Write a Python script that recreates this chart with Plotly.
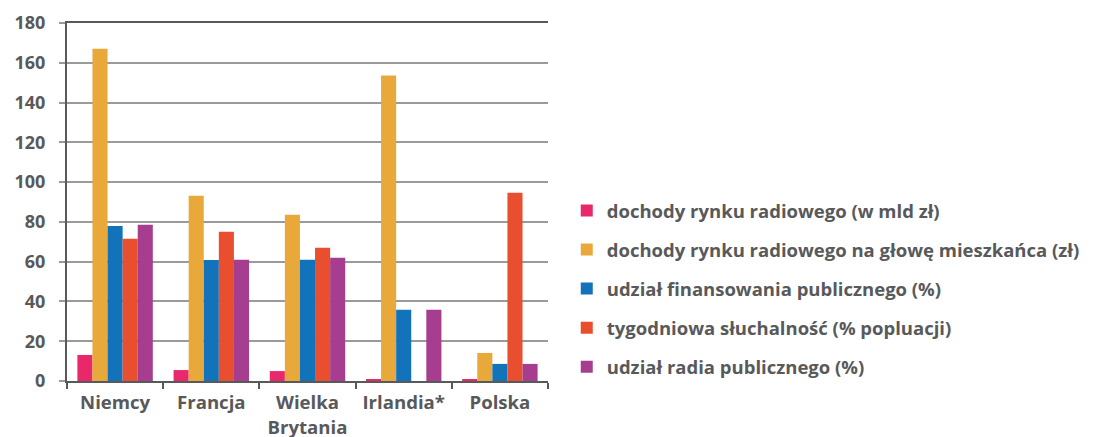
import plotly.graph_objects as go

categories = ["Niemcy", "Francja", "Wielka<br>Brytania", "Irlandia*", "Polska"]
series_names = [
    "dochody rynku radiowego (w mld zł)",
    "dochody rynku radiowego na głowę mieszkańca (zł)",
    "udział finansowania publicznego (%)",
    "tygodniowa słuchalność (% popluacji)",
    "udział radia publicznego (%)",
]
dochody = [13.1, 5.5, 5.0, 1.0, 1.0]
dochody_na_glowe = [167, 93.2, 83.6, 153.6, 14.1]
finansowanie_publiczne = [77.9, 60.9, 61, 35.8, 8.6]
sluchalnosc = [71.5, 75, 67, None, 94.7]
radio_publiczne = [78.6, 61, 62, 35.8, 8.6]
colors = ["#E8286A", "#E9A93A", "#1373BA", "#E94E2F", "#A63D8E"]

series_values = [dochody, dochody_na_glowe, finansowanie_publiczne, sluchalnosc, radio_publiczne]
y_ticks = [0, 20, 40, 60, 80, 100, 120, 140, 160, 180]

text_color = "#58595B"
fig = go.Figure()
for i, (name, vals, col) in enumerate(zip(series_names, series_values, colors)):
    fig.add_trace(go.Bar(x=categories, y=vals, name=name, marker=dict(color=col, line=dict(width=0)),
                         legendgroup=str(i)))

fig.update_layout(
    width=1097, height=437,
    margin=dict(l=66.7, r=541, t=22.7, b=56.3),
    paper_bgcolor="white", plot_bgcolor="white",
    barmode="group", bargap=0.216, bargroupgap=0,
    font=dict(family="Open Sans", color=text_color),
    showlegend=True,
    legend=dict(x=1.039, xanchor="left", y=0.257, yanchor="middle",
                font=dict(family="Open Sans", size=18.5, color=text_color, weight="bold"),
                traceorder="grouped", tracegroupgap=12, itemwidth=30,
                bgcolor="rgba(0,0,0,0)"),
    xaxis=dict(showline=True, linecolor="#58595B", linewidth=2, mirror=True, automargin=False,
               ticks="outside", tickson="boundaries", ticklen=6, tickcolor="#58595B", tickwidth=1.5,
               ticklabelstandoff=4, tickangle=0,
               tickfont=dict(family="Open Sans", size=18.6, color=text_color, weight="bold"),
               showgrid=False),
    yaxis=dict(range=[0, 180], tickvals=y_ticks, showline=True, linecolor="#58595B", linewidth=2,
               automargin=False,
               ticks="outside", ticklen=6, tickcolor="#9A9A9A", tickwidth=1.5,
               ticklabelstandoff=10,
               gridcolor="#9A9A9A", gridwidth=1.5, zeroline=False,
               tickfont=dict(family="Open Sans", size=18, color=text_color, weight="bold")),
)

fig.write_html(
    "out.html",
    config={"displayModeBar": False},
    post_script="document.body.style.margin='0';document.body.style.overflow='hidden';",
)
